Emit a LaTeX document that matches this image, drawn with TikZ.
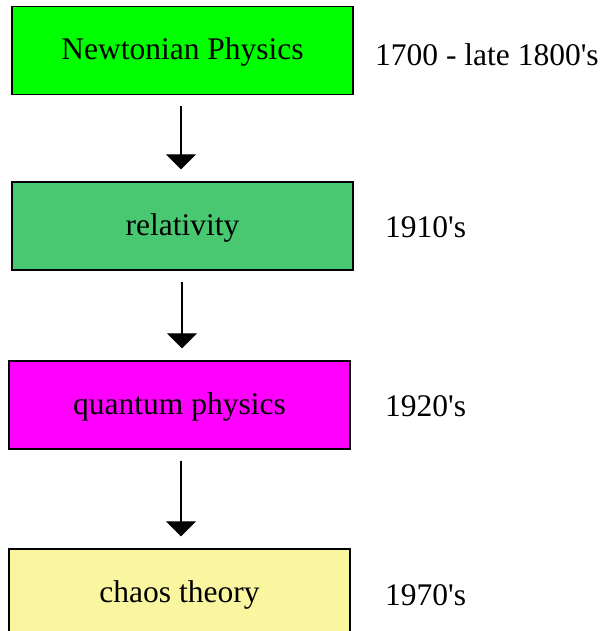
\documentclass[tikz,border=0pt]{standalone}
\usepackage{fontspec}
\setmainfont{Liberation Serif}
\usetikzlibrary{arrows.meta}
\definecolor{boxgreen}{RGB}{0,255,0}
\definecolor{boxsea}{RGB}{72,200,112}
\definecolor{boxmag}{RGB}{255,0,255}
\definecolor{boxyel}{RGB}{250,246,160}
\tikzset{
  stage/.style={draw=black, line width=1.3pt, minimum width=341pt, minimum height=88pt,
    inner sep=0pt, text height=18pt, text depth=0pt, font=\fontsize{31.5}{36}\selectfont},
  era/.style={anchor=base west, inner sep=0pt, font=\fontsize{31.5}{36}\selectfont},
  flow/.style={line width=1.2pt, -{Triangle[width=30pt,length=15pt]}, shorten <=11pt, shorten >=12pt}
}
\begin{document}
\begin{tikzpicture}[x=1pt,y=-1pt]
\useasboundingbox (0,0) rectangle (610,631);
\clip (0,0) rectangle (610,631);
\node[stage, fill=boxgreen] (b1) at (182.5,50.5) {Newtonian Physics};
\node[stage, fill=boxsea] (b2) at (182.5,226) {relativity};
\node[stage, fill=boxmag] (b3) at (179.5,405) {quantum physics};
\node[stage, fill=boxyel] (b4) at (179.5,593) {chaos theory};
\node[era] (t1) at (375,66) {1700 - late 1800\textquotesingle s};
\node[era] (t2) at (385,237) {1910\textquotesingle s};
\node[era] (t3) at (385,416) {1920\textquotesingle s};
\node[era] (t4) at (385,605) {1970\textquotesingle s};
\draw[flow] ([xshift=-1.5pt]b1.south) -- ([xshift=-1.5pt]b2.north);
\draw[flow] ([xshift=-0.5pt]b2.south) -- ([xshift=2.5pt]b3.north);
\draw[flow] ([xshift=1.5pt]b3.south) -- ([xshift=1.5pt]b4.north);
\end{tikzpicture}
\end{document}
